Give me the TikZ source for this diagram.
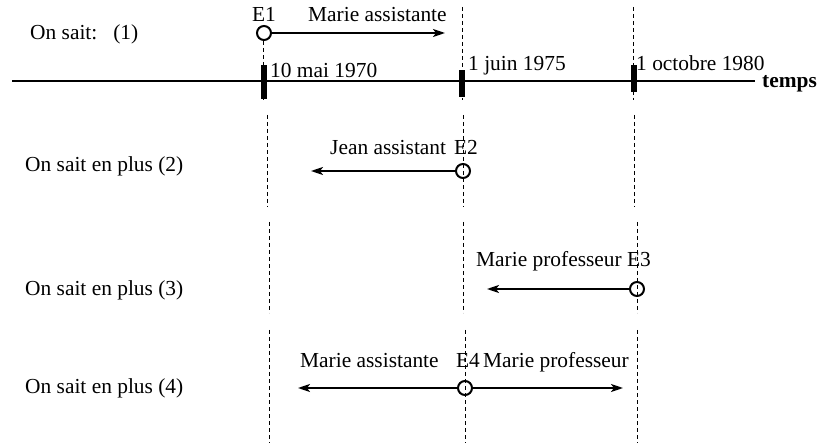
\documentclass[tikz,border=0pt]{standalone}
\usepackage{fontspec}
\setmainfont{Liberation Serif}
\usetikzlibrary{arrows.meta}
\begin{document}
\begin{tikzpicture}[x=1pt,y=-1pt,
  txt/.style={inner sep=0pt,font=\fontsize{21.4}{25}\selectfont},
  evt/.style={circle,draw,line width=2pt,minimum size=14pt,inner sep=0pt},
  tickbox/.style={fill=black,inner sep=0pt,minimum width=6pt},
  vline/.style={line width=1pt,dash pattern=on 4pt off 3pt,black},
  arr/.style={line width=2pt,-{Stealth[length=12pt,width=8pt,inset=3pt]}},
  axis/.style={line width=2pt}]
\useasboundingbox (0,0) rectangle (819,443);
% vertical dashed guides
\coordinate (a1) at (263,41); \coordinate (a2) at (263,100);
\coordinate (a3) at (267,115); \coordinate (a4) at (267,207);
\coordinate (a5) at (269,222); \coordinate (a6) at (269,313);
\coordinate (a7) at (269,330); \coordinate (a8) at (269,443);
\coordinate (b1) at (462,7); \coordinate (b2) at (462,100);
\coordinate (b3) at (463,115); \coordinate (b4) at (463,207);
\coordinate (b5) at (463,222); \coordinate (b6) at (463,313);
\coordinate (b7) at (465,330); \coordinate (b8) at (465,443);
\coordinate (c1) at (633,7); \coordinate (c2) at (633,100);
\coordinate (c3) at (634,115); \coordinate (c4) at (634,207);
\coordinate (c5) at (637,222); \coordinate (c6) at (637,313);
\coordinate (c7) at (637,330); \coordinate (c8) at (637,443);
\foreach \p in {a,b,c}{
  \draw[vline] (\p1) -- (\p2);
  \draw[vline] (\p3) -- (\p4);
  \draw[vline] (\p5) -- (\p6);
  \draw[vline] (\p7) -- (\p8);
}
% time axis
\coordinate (ax0) at (12,81);
\coordinate (ax1) at (755,81);
\draw[axis] (ax0) -- (ax1);
\node[tickbox,minimum height=34pt] (t1) at (264,82.5) {};
\node[tickbox,minimum height=27pt] (t2) at (462,83.5) {};
\node[tickbox,minimum height=27pt] (t3) at (634,78.5) {};
\node[txt,anchor=base west] (d1) at (270,78) {10 mai 1970};
\node[txt,anchor=base west] (d2) at (468,71) {1 juin 1975};
\node[txt,anchor=base west] (d3) at (636,71) {1 octobre 1980};
\node[txt,anchor=base west,font=\fontsize{21.4}{25}\selectfont\bfseries] (tm) at (762,88) {temps};
% row 1
\node[txt,anchor=base west] (l1) at (30,40) {On sait:\hspace{16pt}(1)};
\node[evt] (e1) at (264,33) {};
\node[txt,anchor=base] (n1) at (264,22) {E1};
\node[txt,anchor=base west] (m1) at (308,22) {Marie assistante};
\coordinate (e1end) at (445,33);
\draw[arr] (e1) -- (e1end);
% row 2
\node[txt,anchor=base west] (l2) at (25,172) {On sait en plus (2)};
\node[evt] (e2) at (463,171) {};
\node[txt,anchor=base] (n2) at (466,155) {E2};
\node[txt,anchor=base west] (m2) at (330,155) {Jean assistant};
\coordinate (e2end) at (311,171);
\draw[arr] (e2) -- (e2end);
% row 3
\node[txt,anchor=base west] (l3) at (25,296) {On sait en plus (3)};
\node[evt] (e3) at (637,289) {};
\node[txt,anchor=base] (n3) at (639,267) {E3};
\node[txt,anchor=base west] (m3) at (476,267) {Marie professeur};
\coordinate (e3end) at (487,289);
\draw[arr] (e3) -- (e3end);
% row 4
\node[txt,anchor=base west] (l4) at (25,393) {On sait en plus (4)};
\node[evt] (e4) at (465,388) {};
\node[txt,anchor=base] (n4) at (468,367) {E4};
\node[txt,anchor=base west] (m4a) at (300,367) {Marie assistante};
\node[txt,anchor=base west] (m4b) at (483,367) {Marie professeur};
\coordinate (e4l) at (298,388);
\coordinate (e4r) at (623,388);
\draw[arr] (e4) -- (e4l);
\draw[arr] (e4) -- (e4r);
\end{tikzpicture}
\end{document}
